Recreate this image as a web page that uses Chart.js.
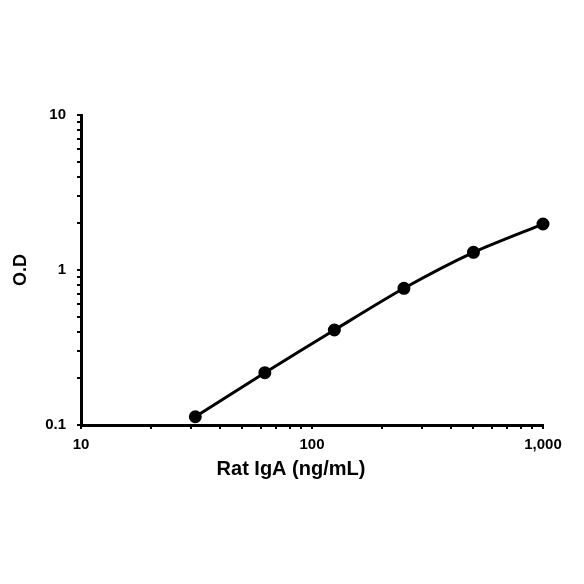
<!DOCTYPE html>
<html>
<head>
<meta charset="utf-8">
<script src="https://cdn.jsdelivr.net/npm/chart.js@4/dist/chart.umd.min.js"></script>
<style>
html,body{margin:0;padding:0;background:#fff;}
#wrap{width:584px;height:584px;}
</style>
</head>
<body>
<div id="wrap"><canvas id="c" width="584" height="584"></canvas></div>
<script>
const concentrations = [31.25, 62.5, 125, 250, 500, 1000];
const odValues = [0.113, 0.2175, 0.41, 0.762, 1.30, 1.98];
const xTickValues = [10,20,30,40,50,60,70,80,90,100,200,300,400,500,600,700,800,900,1000];
const yTickValues = [0.1,0.2,0.3,0.4,0.5,0.6,0.7,0.8,0.9,1,2,3,4,5,6,7,8,9,10];
const xMajorLabels = {10:'10',100:'100',1000:'1,000'};
const yMajorLabels = {0.1:'0.1',1:'1',10:'10'};
const xTitle = 'Rat IgA (ng/mL)';
const yTitle = 'O.D';

const FONT = '"Liberation Sans", Arial, sans-serif';

const xTitlePlugin = {
  id: 'xTitlePlugin',
  afterDraw(chart) {
    const ctx = chart.ctx;
    ctx.save();
    ctx.font = 'bold 20px ' + FONT;
    ctx.fillStyle = '#000';
    ctx.textAlign = 'center';
    ctx.textBaseline = 'middle';
    ctx.fillText(xTitle, 291, 469);
    ctx.restore();
  }
};

new Chart(document.getElementById('c'), {
  type: 'line',
  data: {
    datasets: [{
      data: concentrations.map((x, i) => ({x: x, y: odValues[i]})),
      borderColor: '#000',
      backgroundColor: '#000',
      borderWidth: 3,
      pointRadius: 5,
      pointHoverRadius: 5,
      pointBackgroundColor: '#000',
      pointBorderColor: '#000',
      tension: 0.25,
      clip: false,
      fill: false
    }]
  },
  options: {
    responsive: false,
    animation: false,
    devicePixelRatio: 1,
    layout: { padding: { left: 0, right: 41, top: 115, bottom: 119 } },
    plugins: { legend: { display: false }, tooltip: { enabled: false } },
    scales: {
      x: {
        type: 'logarithmic',
        min: 10, max: 1000,
        afterBuildTicks(scale) { scale.ticks = xTickValues.map(v => ({value: v, major: !!xMajorLabels[v]})); },
        afterFit(scale) { scale.height = 40; },
        ticks: {
          autoSkip: false, maxRotation: 0,
          color: '#000',
          font: { family: FONT, size: 15, weight: 'bold' },
          padding: 7,
          callback(v) { return xMajorLabels[v] || ''; }
        },
        grid: { drawOnChartArea: false, drawTicks: true, tickLength: 4, color: '#000', lineWidth: 2 },
        border: { display: true, color: '#000', width: 3 }
      },
      y: {
        type: 'logarithmic',
        min: 0.1, max: 10,
        afterBuildTicks(scale) { scale.ticks = yTickValues.map(v => ({value: v, major: !!yMajorLabels[v]})); },
        afterFit(scale) { scale.width = 81; },
        ticks: {
          autoSkip: false,
          color: '#000',
          font: { family: FONT, size: 15, weight: 'bold' },
          padding: 11,
          callback(v) { return yMajorLabels[v] || ''; }
        },
        title: {
          display: true, text: yTitle, color: '#000',
          font: { family: FONT, size: 18, weight: 'bold' },
          padding: { top: 10, bottom: 10 }
        },
        grid: { drawOnChartArea: false, drawTicks: true, tickLength: 4, color: '#000', lineWidth: 2 },
        border: { display: true, color: '#000', width: 3 }
      }
    }
  },
  plugins: [xTitlePlugin]
});
</script>
</body>
</html>
